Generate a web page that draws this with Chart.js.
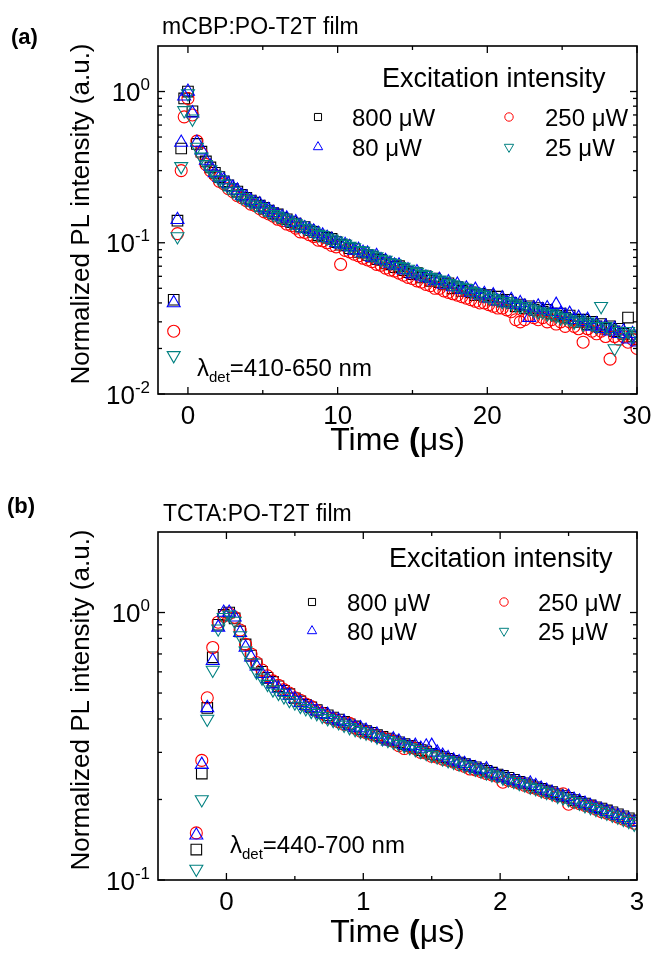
<!DOCTYPE html>
<html>
<head>
<meta charset="utf-8">
<script src="https://cdn.jsdelivr.net/npm/chart.js@4.4.0/dist/chart.umd.min.js"></script>
<style>
  html, body { margin: 0; padding: 0; background: #fff; }
  #wrap { position: relative; width: 656px; height: 958px; }
  canvas { position: absolute; left: 0; }
  #chartA { top: 0; }
  #chartB { top: 479px; }
</style>
</head>
<body>
<div id="wrap">
  <canvas id="chartA" width="656" height="479"></canvas>
  <canvas id="chartB" width="656" height="479"></canvas>
</div>
<script>
const FONT = '"Liberation Sans", Arial, Helvetica, sans-serif';

// ---- panel (a): mCBP:PO-T2T film, time in us ----
const timeA = [-0.95, -0.7, -0.45, -0.25,
  0, 0.3, 0.6, 0.9, 1.2, 1.5, 1.8, 2.1, 2.4, 2.7,
  3, 3.3, 3.6, 3.9, 4.2, 4.5, 4.8, 5.1, 5.4, 5.7,
  6, 6.3, 6.6, 6.9, 7.2, 7.5, 7.8, 8.1, 8.4, 8.7,
  9, 9.3, 9.6, 9.9, 10.2, 10.5, 10.8, 11.1, 11.4, 11.7,
  12, 12.3, 12.6, 12.9, 13.2, 13.5, 13.8, 14.1, 14.4, 14.7,
  15, 15.3, 15.6, 15.9, 16.2, 16.5, 16.8, 17.1, 17.4, 17.7,
  18, 18.3, 18.6, 18.9, 19.2, 19.5, 19.8, 20.1, 20.4, 20.7,
  21, 21.3, 21.6, 21.9, 22.2, 22.5, 22.8, 23.1, 23.4, 23.7,
  24, 24.3, 24.6, 24.9, 25.2, 25.5, 25.8, 26.1, 26.4, 26.7,
  27, 27.3, 27.6, 27.9, 28.2, 28.5, 28.8, 29.1, 29.4, 29.7,
  30];
const a800 = [0.042, 0.14, 0.42, 0.90,
  1.00, 0.74, 0.45, 0.40, 0.345, 0.315, 0.29, 0.272, 0.255, 0.24,
  0.226, 0.218, 0.207, 0.198, 0.19, 0.184, 0.176, 0.17, 0.163, 0.157,
  0.154, 0.146, 0.143, 0.137, 0.134, 0.128, 0.127, 0.121, 0.118, 0.112,
  0.110, 0.108, 0.106, 0.101, 0.097, 0.096, 0.092, 0.091, 0.087, 0.086,
  0.083, 0.081, 0.078, 0.077, 0.073, 0.072, 0.069, 0.070, 0.066, 0.064,
  0.062, 0.063, 0.059, 0.060, 0.056, 0.058, 0.055, 0.053, 0.054, 0.050,
  0.051, 0.048, 0.049, 0.047, 0.045, 0.046, 0.044, 0.045, 0.042, 0.044,
  0.041, 0.042, 0.040, 0.038, 0.039, 0.037, 0.038, 0.036, 0.037, 0.035,
  0.036, 0.034, 0.033, 0.034, 0.032, 0.033, 0.031, 0.030, 0.031, 0.029,
  0.030, 0.028, 0.029, 0.027, 0.028, 0.026, 0.027, 0.025, 0.032, 0.024,
  0.023];
const a250 = [0.026, 0.115, 0.30, 0.68,
  0.90, 0.70, 0.47, 0.39, 0.33, 0.30, 0.28, 0.255, 0.245, 0.228,
  0.218, 0.205, 0.198, 0.19, 0.18, 0.176, 0.168, 0.160, 0.155, 0.150,
  0.143, 0.140, 0.133, 0.130, 0.125, 0.118, 0.117, 0.113, 0.110, 0.104,
  0.103, 0.100, 0.096, 0.094, 0.072, 0.089, 0.087, 0.084, 0.082, 0.079,
  0.077, 0.075, 0.072, 0.071, 0.068, 0.066, 0.065, 0.063, 0.061, 0.059,
  0.058, 0.056, 0.055, 0.053, 0.052, 0.050, 0.050, 0.048, 0.047, 0.046,
  0.045, 0.044, 0.043, 0.042, 0.041, 0.040, 0.040, 0.039, 0.038, 0.037,
  0.037, 0.036, 0.035, 0.031, 0.030, 0.031, 0.033, 0.032, 0.031, 0.032,
  0.030, 0.031, 0.029, 0.030, 0.028, 0.030, 0.028, 0.027, 0.022, 0.027,
  0.026, 0.025, 0.026, 0.024, 0.017, 0.024, 0.023, 0.024, 0.022, 0.023,
  0.020];
const a80 = [0.040, 0.142, 0.46, 0.93,
  1.00, 0.72, 0.46, 0.41, 0.35, 0.32, 0.29, 0.27, 0.26, 0.245,
  0.232, 0.222, 0.205, 0.20, 0.19, 0.183, 0.18, 0.17, 0.165, 0.158,
  0.152, 0.148, 0.145, 0.136, 0.137, 0.13, 0.125, 0.122, 0.119, 0.115,
  0.112, 0.108, 0.105, 0.100, 0.098, 0.097, 0.094, 0.089, 0.090, 0.086,
  0.085, 0.080, 0.082, 0.077, 0.076, 0.073, 0.071, 0.071, 0.066, 0.066,
  0.062, 0.064, 0.060, 0.059, 0.058, 0.056, 0.057, 0.053, 0.055, 0.051,
  0.053, 0.049, 0.050, 0.047, 0.049, 0.045, 0.046, 0.043, 0.045, 0.041,
  0.043, 0.040, 0.042, 0.039, 0.040, 0.038, 0.032, 0.037, 0.038, 0.036,
  0.037, 0.035, 0.039, 0.034, 0.033, 0.034, 0.031, 0.032, 0.030, 0.031,
  0.028, 0.029, 0.027, 0.028, 0.026, 0.027, 0.025, 0.026, 0.023, 0.025,
  0.022];
const a25 = [0.018, 0.11, 0.32, 0.75,
  0.97, 0.66, 0.43, 0.37, 0.33, 0.305, 0.28, 0.262, 0.245, 0.232,
  0.22, 0.21, 0.20, 0.193, 0.186, 0.178, 0.172, 0.166, 0.16, 0.154,
  0.15, 0.146, 0.142, 0.136, 0.134, 0.13, 0.125, 0.122, 0.118, 0.114,
  0.112, 0.108, 0.106, 0.103, 0.1, 0.098, 0.095, 0.093, 0.089, 0.088,
  0.085, 0.083, 0.081, 0.078, 0.077, 0.074, 0.073, 0.07, 0.069, 0.067,
  0.065, 0.064, 0.062, 0.061, 0.059, 0.058, 0.057, 0.056, 0.054, 0.053,
  0.052, 0.051, 0.050, 0.048, 0.047, 0.046, 0.045, 0.044, 0.043, 0.042,
  0.041, 0.041, 0.040, 0.039, 0.038, 0.038, 0.037, 0.036, 0.035, 0.035,
  0.034, 0.034, 0.033, 0.032, 0.032, 0.031, 0.030, 0.031, 0.029, 0.030,
  0.029, 0.028, 0.038, 0.028, 0.027, 0.020, 0.026, 0.025, 0.026, 0.024,
  0.025];
const xMajorA = [0, 10, 20, 30];
const xMinorA = [5, 15, 25];
const yMajorA = [0.01, 0.1, 1];
const yExpA = ['-2', '-1', '0'];

// ---- panel (b): TCTA:PO-T2T film, time in us ----
const timeB = [-0.22, -0.18, -0.14, -0.1, -0.06, -0.02, 0.02, 0.06, 0.1, 0.14,
  0.18, 0.22, 0.26, 0.3, 0.34, 0.38, 0.42, 0.46, 0.5, 0.54,
  0.58, 0.62, 0.66, 0.7, 0.74, 0.78, 0.82, 0.86, 0.9, 0.94,
  0.98, 1.02, 1.06, 1.1, 1.14, 1.18, 1.22, 1.26, 1.3, 1.34,
  1.38, 1.42, 1.46, 1.5, 1.54, 1.58, 1.62, 1.66, 1.7, 1.74,
  1.78, 1.82, 1.86, 1.9, 1.94, 1.98, 2.02, 2.06, 2.1, 2.14,
  2.18, 2.22, 2.26, 2.3, 2.34, 2.38, 2.42, 2.46, 2.5, 2.54,
  2.58, 2.62, 2.66, 2.7, 2.74, 2.78, 2.82, 2.86, 2.9, 2.94,
  2.98];
const b800 = [0.13, 0.25, 0.44, 0.68, 0.90, 0.98, 1.0, 0.95, 0.85, 0.76,
  0.69, 0.64, 0.60, 0.57, 0.55, 0.53, 0.51, 0.495, 0.478, 0.465,
  0.452, 0.442, 0.432, 0.422, 0.413, 0.405, 0.398, 0.39, 0.382, 0.375,
  0.366, 0.36, 0.355, 0.348, 0.343, 0.338, 0.332, 0.327, 0.322, 0.317,
  0.312, 0.306, 0.302, 0.296, 0.292, 0.288, 0.284, 0.279, 0.275, 0.271,
  0.267, 0.264, 0.26, 0.256, 0.252, 0.248, 0.245, 0.241, 0.237, 0.233,
  0.23, 0.226, 0.222, 0.219, 0.216, 0.213, 0.209, 0.206, 0.203, 0.199,
  0.196, 0.193, 0.19, 0.187, 0.185, 0.182, 0.179, 0.176, 0.173, 0.17,
  0.167];
const b250 = [0.15, 0.28, 0.48, 0.74, 0.92, 0.97, 0.99, 0.96, 0.86, 0.76,
  0.70, 0.65, 0.61, 0.58, 0.555, 0.535, 0.515, 0.50, 0.48, 0.47,
  0.455, 0.445, 0.43, 0.42, 0.405, 0.40, 0.39, 0.382, 0.385, 0.37,
  0.36, 0.356, 0.35, 0.345, 0.34, 0.335, 0.33, 0.318, 0.31, 0.315,
  0.31, 0.30, 0.298, 0.29, 0.288, 0.283, 0.28, 0.276, 0.27, 0.266,
  0.26, 0.258, 0.254, 0.25, 0.247, 0.244, 0.232, 0.236, 0.233, 0.23,
  0.226, 0.222, 0.22, 0.216, 0.212, 0.21, 0.206, 0.21, 0.192, 0.196,
  0.193, 0.19, 0.188, 0.184, 0.18, 0.178, 0.175, 0.172, 0.169, 0.166,
  0.163];
const b80 = [0.147, 0.27, 0.44, 0.66, 0.88, 1.0, 1.0, 0.96, 0.84, 0.74,
  0.68, 0.63, 0.59, 0.565, 0.54, 0.52, 0.505, 0.49, 0.475, 0.46,
  0.448, 0.44, 0.428, 0.418, 0.415, 0.40, 0.395, 0.39, 0.378, 0.372,
  0.37, 0.362, 0.352, 0.35, 0.338, 0.33, 0.336, 0.33, 0.32, 0.315,
  0.318, 0.31, 0.316, 0.318, 0.30, 0.292, 0.286, 0.28, 0.276, 0.272,
  0.266, 0.262, 0.258, 0.26, 0.25, 0.246, 0.242, 0.238, 0.235, 0.232,
  0.228, 0.23, 0.225, 0.22, 0.216, 0.212, 0.208, 0.204, 0.205, 0.2,
  0.197, 0.193, 0.189, 0.186, 0.183, 0.18, 0.177, 0.174, 0.171, 0.168,
  0.164];
const b25 = [0.11, 0.20, 0.40, 0.61, 0.87, 0.96, 0.98, 0.93, 0.82, 0.72,
  0.65, 0.60, 0.57, 0.54, 0.515, 0.50, 0.485, 0.47, 0.46, 0.447,
  0.438, 0.428, 0.42, 0.41, 0.402, 0.396, 0.388, 0.38, 0.372, 0.366,
  0.36, 0.355, 0.35, 0.343, 0.338, 0.333, 0.328, 0.322, 0.318, 0.313,
  0.308, 0.303, 0.298, 0.293, 0.289, 0.284, 0.28, 0.276, 0.272, 0.268,
  0.265, 0.26, 0.256, 0.252, 0.248, 0.245, 0.241, 0.237, 0.234, 0.23,
  0.227, 0.223, 0.22, 0.216, 0.213, 0.21, 0.206, 0.203, 0.2, 0.197,
  0.194, 0.19, 0.187, 0.184, 0.181, 0.178, 0.175, 0.172, 0.169, 0.166,
  0.162];
const xMajorB = [0, 1, 2, 3];
const xMinorB = [0.5, 1.5, 2.5];
const yMajorB = [0.1, 1];
const yExpB = ['-1', '0'];

const seriesLabels = ['800 μW', '250 μW', '80 μW', '25 μW'];

// marker looks, same order as seriesLabels
const looks = [
  { color: '#000000', pointStyle: 'rect', rotation: 0, radius: 7.5, legendR: 5, order: 3 },
  { color: '#ff0000', pointStyle: 'circle', rotation: 0, radius: 6, legendR: 4.2, order: 2 },
  { color: '#0000ff', pointStyle: 'triangle', rotation: 0, radius: 7.5, legendR: 5.4, order: 1 },
  { color: '#008080', pointStyle: 'triangle', rotation: 180, radius: 7.5, legendR: 5.4, order: 0 }
];

function richText(ctx, parts, x, y, align) {
  let total = 0;
  parts.forEach(p => {
    ctx.font = (p.bold ? 'bold ' : '') + p.size + 'px ' + FONT;
    p.w = ctx.measureText(p.t).width;
    total += p.w;
  });
  let cx = align === 'right' ? x - total : (align === 'center' ? x - total / 2 : x);
  ctx.textAlign = 'left';
  ctx.textBaseline = 'alphabetic';
  parts.forEach(p => {
    ctx.font = (p.bold ? 'bold ' : '') + p.size + 'px ' + FONT;
    ctx.fillText(p.t, cx, y + (p.dy || 0));
    cx += p.w;
  });
}

function marker(ctx, look, x, y, r) {
  ctx.beginPath();
  if (look.pointStyle === 'rect') {
    const s = r * Math.SQRT1_2;
    ctx.rect(x - s, y - s, 2 * s, 2 * s);
  } else if (look.pointStyle === 'circle') {
    ctx.arc(x, y, r, 0, Math.PI * 2);
  } else {
    let a = look.rotation * Math.PI / 180;
    for (let i = 0; i < 3; i++) {
      const px = x + Math.sin(a) * r, py = y - Math.cos(a) * r;
      if (i) ctx.lineTo(px, py); else ctx.moveTo(px, py);
      a += 2 * Math.PI / 3;
    }
    ctx.closePath();
  }
  ctx.strokeStyle = look.color;
  ctx.lineWidth = 1;
  ctx.stroke();
}

function makePanel(p) {
  const datasets = p.values.map((vals, i) => ({
    label: seriesLabels[i],
    data: p.times.map((t, j) => ({ x: t, y: vals[j] })),
    showLine: false,
    pointStyle: looks[i].pointStyle,
    rotation: looks[i].rotation,
    pointRadius: looks[i].radius,
    pointBorderWidth: 1.1,
    borderColor: looks[i].color,
    pointBorderColor: looks[i].color,
    backgroundColor: 'rgba(0,0,0,0)',
    pointBackgroundColor: 'rgba(0,0,0,0)',
    order: looks[i].order
  }));

  const decorations = {
    id: 'decorations',
    afterDraw(chart) {
      const { ctx, chartArea: ca, scales: { x, y } } = chart;
      ctx.save();
      ctx.fillStyle = '#000';
      ctx.strokeStyle = '#000';

      // ticks, inward on all four sides
      ctx.lineWidth = 1.3;
      const tick = (x1, y1, x2, y2) => { ctx.beginPath(); ctx.moveTo(x1, y1); ctx.lineTo(x2, y2); ctx.stroke(); };
      p.xMajor.forEach(v => {
        const px = x.getPixelForValue(v);
        tick(px, ca.bottom, px, ca.bottom - 7);
        tick(px, ca.top, px, ca.top + 7);
      });
      p.xMinor.forEach(v => {
        const px = x.getPixelForValue(v);
        tick(px, ca.bottom, px, ca.bottom - 4);
        tick(px, ca.top, px, ca.top + 4);
      });
      p.yMajor.forEach(v => {
        const py = y.getPixelForValue(v);
        tick(ca.left, py, ca.left + 7, py);
        tick(ca.right, py, ca.right - 7, py);
      });
      p.yMajor.forEach(dec => {
        for (let m = 2; m <= 9; m++) {
          const v = dec * m;
          if (v >= p.yMax) break;
          const py = y.getPixelForValue(v);
          tick(ca.left, py, ca.left + 4, py);
          tick(ca.right, py, ca.right - 4, py);
        }
      });

      // frame
      ctx.lineWidth = 1.6;
      ctx.strokeRect(ca.left, ca.top, ca.right - ca.left, ca.bottom - ca.top);

      // tick labels
      ctx.textAlign = 'center';
      ctx.textBaseline = 'alphabetic';
      ctx.font = '26px ' + FONT;
      p.xMajor.forEach(v => ctx.fillText(String(v), x.getPixelForValue(v), ca.bottom + 30));
      p.yMajor.forEach((v, i) => {
        const py = y.getPixelForValue(v);
        richText(ctx, [{ t: '10', size: 26 }, { t: p.yExp[i], size: 17, dy: -11 }], ca.left - 8, py + 9.5, 'right');
      });

      // axis titles
      ctx.save();
      ctx.translate(89, (ca.top + ca.bottom) / 2 - 6);
      ctx.rotate(-Math.PI / 2);
      richText(ctx, [{ t: 'Normalized PL intensity (a.u.)', size: 26 }], 0, 0, 'center');
      ctx.restore();
      richText(ctx, [{ t: 'Time ', size: 32 }, { t: '(', size: 32, bold: true }, { t: 'μs)', size: 32 }],
        (ca.left + ca.right) / 2, ca.bottom + p.timeDy, 'center');

      // panel tag and film title
      richText(ctx, [{ t: p.tag, size: 22, bold: true }], p.tagX, p.tagY, 'left');
      richText(ctx, [{ t: p.title, size: 23 }], p.titleX, p.titleY, 'left');

      // legend
      richText(ctx, [{ t: 'Excitation intensity', size: 27 }], p.legHeadX, p.legHeadY, 'left');
      const slots = [[0, 0], [1, 0], [0, 1], [1, 1]];
      slots.forEach((s, i) => {
        const cy = p.legRowY[s[1]];
        marker(ctx, looks[i], p.legMarkX[s[0]], cy, looks[i].legendR);
        ctx.fillStyle = '#000';
        richText(ctx, [{ t: seriesLabels[i], size: 24 }], p.legTextX[s[0]], cy + 8.5, 'left');
      });

      // detection window
      richText(ctx, [{ t: 'λ', size: 24 }, { t: 'det', size: 15, dy: 6 }, { t: p.det, size: 24 }],
        p.detX, p.detY, 'left');
      ctx.restore();
    }
  };

  return new Chart(document.getElementById(p.canvas), {
    type: 'scatter',
    data: { datasets },
    options: {
      responsive: false,
      animation: false,
      events: [],
      layout: { padding: p.padding },
      scales: {
        x: { type: 'linear', min: p.xMin, max: p.xMax, display: false },
        y: { type: 'logarithmic', min: p.yMin, max: p.yMax, display: false }
      },
      plugins: { legend: { display: false }, tooltip: { enabled: false } }
    },
    plugins: [decorations]
  });
}

makePanel({
  canvas: 'chartA', times: timeA, values: [a800, a250, a80, a25],
  xMin: -2, xMax: 30, yMin: 0.01, yMax: 2,
  xMajor: xMajorA, xMinor: xMinorA, yMajor: yMajorA, yExp: yExpA,
  padding: { left: 158, right: 19, top: 46, bottom: 85 },
  timeDy: 56,
  tag: '(a)', tagX: 11, tagY: 44,
  title: 'mCBP:PO-T2T film', titleX: 162, titleY: 34,
  legHeadX: 382, legHeadY: 87,
  legRowY: [117, 147], legMarkX: [318, 509], legTextX: [352, 545],
  det: '=410-650 nm', detX: 197, detY: 376
});

makePanel({
  canvas: 'chartB', times: timeB, values: [b800, b250, b80, b25],
  xMin: -0.5, xMax: 3, yMin: 0.1, yMax: 2,
  xMajor: xMajorB, xMinor: xMinorB, yMajor: yMajorB, yExp: yExpB,
  padding: { left: 158, right: 19, top: 53, bottom: 78 },
  timeDy: 62,
  tag: '(b)', tagX: 7, tagY: 34,
  title: 'TCTA:PO-T2T film', titleX: 163, titleY: 42,
  legHeadX: 389, legHeadY: 88,
  legRowY: [123, 152], legMarkX: [312, 504], legTextX: [347, 538],
  det: '=440-700 nm', detX: 230, detY: 374
});
</script>
</body>
</html>
